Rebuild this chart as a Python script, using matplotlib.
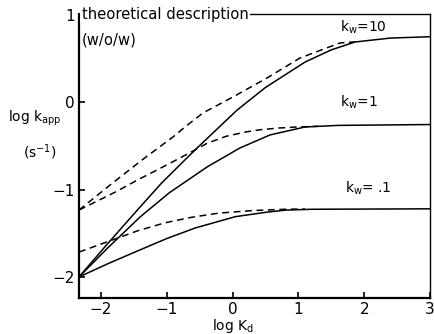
import matplotlib
matplotlib.use('Agg')
import matplotlib.pyplot as plt

plt.rcParams['font.family'] = ['DejaVu Sans']
plt.rcParams['font.size'] = 10

# solid curves (theoretical, per k_w)
x_s10 = [-2.334, -1.9, -1.407, -1.073, -0.571, 0.067, 0.5, 1.1, 1.5, 1.86, 2.4, 3.0]
y_s10 = [-2.0, -1.62, -1.2, -0.92, -0.546, -0.09, 0.17, 0.46, 0.6, 0.69, 0.735, 0.75]
x_s1 = [-2.334, -1.9, -1.407, -0.967, -0.389, 0.112, 0.568, 1.1, 1.6, 3.0]
y_s1 = [-2.0, -1.67, -1.314, -1.039, -0.741, -0.523, -0.374, -0.283, -0.265, -0.255]
x_s01 = [-2.334, -1.9, -1.5, -1.0, -0.571, 0.04, 0.5, 0.8, 1.2, 3.0]
y_s01 = [-2.0, -1.85, -1.72, -1.56, -1.44, -1.31, -1.26, -1.235, -1.225, -1.22]

# dashed curves (w/o/w)
x_d10 = [-2.334, -1.9, -1.377, -0.906, -0.723, -0.45, 0.006, 0.523, 1.024, 1.632, 1.86]
y_d10 = [-1.234, -0.97, -0.661, -0.397, -0.283, -0.122, 0.061, 0.278, 0.507, 0.679, 0.691]
x_d1 = [-2.334, -1.787, -1.42, -1.134, -0.906, -0.571, -0.389, -0.1, 0.2, 0.416, 0.7, 0.979, 1.3]
y_d1 = [-1.234, -1.03, -0.88, -0.77, -0.68, -0.546, -0.47, -0.39, -0.34, -0.315, -0.295, -0.283, -0.275]
x_d01 = [-2.334, -1.894, -1.438, -1.027, -0.647, -0.222, 0.295, 0.8, 1.1]
y_d01 = [-1.715, -1.595, -1.47, -1.38, -1.32, -1.27, -1.24, -1.225, -1.222]

labels = ['k$_\\mathregular{w}$=10', 'k$_\\mathregular{w}$=1', 'k$_\\mathregular{w}$= .1']
label_pos = [(1.63, 0.86), (1.63, 0.0), (1.71, -0.99)]

fig = plt.figure(figsize=(4.34, 3.34), dpi=100)
ax = fig.add_axes([0.182, 0.108, 0.809, 0.85])

for xs, ys in [(x_s10, y_s10), (x_s1, y_s1), (x_s01, y_s01)]:
    ax.plot(xs, ys, color='black', lw=1.1)
for xs, ys in [(x_d10, y_d10), (x_d1, y_d1), (x_d01, y_d01)]:
    ax.plot(xs, ys, color='black', lw=1.1, linestyle=(0, (4.5, 3)))

for lab, (lx, ly) in zip(labels, label_pos):
    ax.text(lx, ly, lab, fontsize=10, ha='left', va='center')

ax.text(0.008, 1.0, 'theoretical description', transform=ax.transAxes,
        fontsize=10.6, va='center', ha='left',
        bbox=dict(facecolor='white', edgecolor='none', pad=1))
ax.text(0.008, 0.91, '(w/o/w)', transform=ax.transAxes, fontsize=10.6,
        va='center', ha='left')

ax.set_xlim(-2.334, 3.0)
ax.set_ylim(-2.24, 1.01)
ax.set_xticks([-2, -1, 0, 1, 2, 3])
ax.set_yticks([-2, -1, 0, 1])
ax.tick_params(direction='in', length=4, width=1.2, labelsize=11, pad=3)

for side in ['left', 'bottom']:
    ax.spines[side].set_linewidth(1.6)
for side in ['top', 'right']:
    ax.spines[side].set_linewidth(1.0)

fig.text(0.536, 0.025, 'log K$_\\mathregular{d}$', fontsize=10, ha='center', va='center')
fig.text(0.018, 0.645, 'log k$_\\mathregular{app}$', fontsize=10, ha='left', va='center')
fig.text(0.052, 0.545, '(s$^{\\mathregular{-1}}$)', fontsize=10, ha='left', va='center')

plt.savefig('out.png', dpi=100)
